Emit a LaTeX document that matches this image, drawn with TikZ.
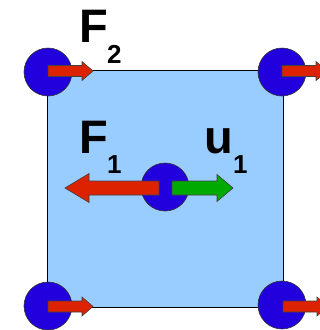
\documentclass[tikz,border=0pt]{standalone}
\usepackage{fontspec}
\setmainfont{Liberation Sans}
\definecolor{platefill}{HTML}{99CCFF}
\definecolor{massblue}{HTML}{2200DD}
\definecolor{forcered}{HTML}{DD2200}
\definecolor{dispgreen}{HTML}{00AA00}
% block arrow: colour, start x, y, tip x, head length (signed), half shaft, half head
\newcommand{\blockarrow}[7]{%
  \filldraw[fill=#1, draw=black!75, line width=0.6pt]
    ({#2},{#3-#6}) -- ({#4-(#5)},{#3-#6}) -- ({#4-(#5)},{#3-#7}) -- ({#4},{#3})
    -- ({#4-(#5)},{#3+#7}) -- ({#4-(#5)},{#3+#6}) -- ({#2},{#3+#6}) -- cycle;}
\tikzset{
  mass/.style={circle, draw=black!80, fill=massblue, line width=0.6pt,
    minimum size=48pt, inner sep=0pt},
  biglabel/.style={anchor=base west, inner sep=0pt,
    font=\fontsize{47}{50}\selectfont\bfseries},
  sublabel/.style={anchor=base west, inner sep=0pt,
    font=\fontsize{26}{28}\selectfont\bfseries}
}
\begin{document}
\begin{tikzpicture}[x=1pt, y=-1pt]
\useasboundingbox (0,0) rectangle (320,330);
\filldraw[fill=platefill, draw=black, line width=0.8pt] (47,70) rectangle (283,307);

\node[mass] (m1) at (48,72) {};
\node[mass] (m2) at (282,72) {};
\node[mass] (m3) at (48,306) {};
\node[mass] (m4) at (282,305) {};
\node[mass] (mc) at (165,187) {};

\blockarrow{forcered}{48}{71}{93}{11}{5.5}{9.5}
\blockarrow{forcered}{282}{71}{327}{11}{5.5}{9.5}
\blockarrow{forcered}{48}{306.5}{93}{11}{5.5}{9.5}
\blockarrow{forcered}{283}{306.5}{328}{11}{5.5}{9.5}
\blockarrow{forcered}{159}{188}{65}{-24}{7}{14.5}
\blockarrow{dispgreen}{172}{188}{233}{16}{7}{13.5}

\node[biglabel] (f2) at (79,42) {F};
\node[sublabel] (f2s) at (107,63) {2};
\node[biglabel] (f1) at (79,153) {F};
\node[sublabel] (f1s) at (107,173) {1};
\node[biglabel] (u1) at (204,153) {u};
\node[sublabel] (u1s) at (233,173) {1};
\end{tikzpicture}
\end{document}
